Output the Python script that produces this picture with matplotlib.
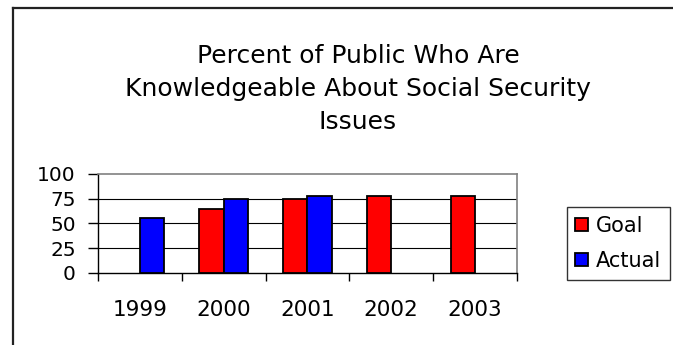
"""Grouped bar chart: share of public knowledgeable about Social Security issues."""

import matplotlib.pyplot as plt
import numpy as np
from matplotlib.lines import Line2D

plt.rcParams["font.family"] = ["DejaVu Sans"]

YEARS = ["1999", "2000", "2001", "2002", "2003"]
GOAL = [np.nan, 65, 75, 78, 78]
ACTUAL = [55, 75, 78, np.nan, np.nan]
Y_TICKS = [0, 25, 50, 75, 100]

GOAL_COLOR = "#FF0000"
ACTUAL_COLOR = "#0000FF"
PLOT_EDGE = "#808080"


def main() -> None:
    fig = plt.figure(figsize=(6.73, 3.45), dpi=100)
    ax = fig.add_axes([0.1456, 0.2096, 0.6224, 0.2861])

    x = np.arange(len(YEARS))
    w = 0.29
    ax.bar(x - w / 2, GOAL, width=w, color=GOAL_COLOR, edgecolor="black",
           linewidth=1.3, label="Goal", zorder=3)
    ax.bar(x + w / 2, ACTUAL, width=w, color=ACTUAL_COLOR, edgecolor="black",
           linewidth=1.3, label="Actual", zorder=3)

    ax.set_xlim(-0.5, len(YEARS) - 0.5)
    ax.set_ylim(0, 100)
    ax.set_yticks(Y_TICKS)
    ax.set_xticks(x)
    ax.set_xticklabels(YEARS)
    ax.set_xticks(np.arange(-0.5, len(YEARS)), minor=True)

    for v in Y_TICKS[1:-1]:
        ax.axhline(v, color="black", linewidth=0.8, zorder=1)

    for side in ("top", "right"):
        ax.spines[side].set_color(PLOT_EDGE)
        ax.spines[side].set_linewidth(1.2)
    for side in ("left", "bottom"):
        ax.spines[side].set_color("black")
        ax.spines[side].set_linewidth(1.0)

    ax.tick_params(axis="y", length=7, width=1, labelsize=14.5, pad=9)
    ax.tick_params(axis="x", which="major", length=0, labelsize=15.5, pad=20)
    ax.tick_params(axis="x", which="minor", length=6, width=1)

    fig.text(0.532, 0.742, "Percent of Public Who Are\n"
             "Knowledgeable About Social Security\nIssues",
             ha="center", va="center", fontsize=18, linespacing=1.45)

    fig.legend(loc="center left", bbox_to_anchor=(0.842, 0.2948),
               fontsize=15, frameon=True, fancybox=False, edgecolor="black",
               handlelength=0.6, handleheight=0.55, handletextpad=0.4,
               labelspacing=0.72, borderpad=0.42, borderaxespad=0)

    # outer chart border (left and top edges)
    x0 = 12.5 / 673
    y0 = 1 - 7.5 / 345
    for xs, ys in (([x0, x0], [0, y0]), ([x0, 1], [y0, y0])):
        fig.add_artist(Line2D(xs, ys, transform=fig.transFigure,
                              color="#222222", linewidth=1.6))

    fig.savefig("out.png", dpi=100, facecolor="white")
    plt.close(fig)


if __name__ == "__main__":
    main()
